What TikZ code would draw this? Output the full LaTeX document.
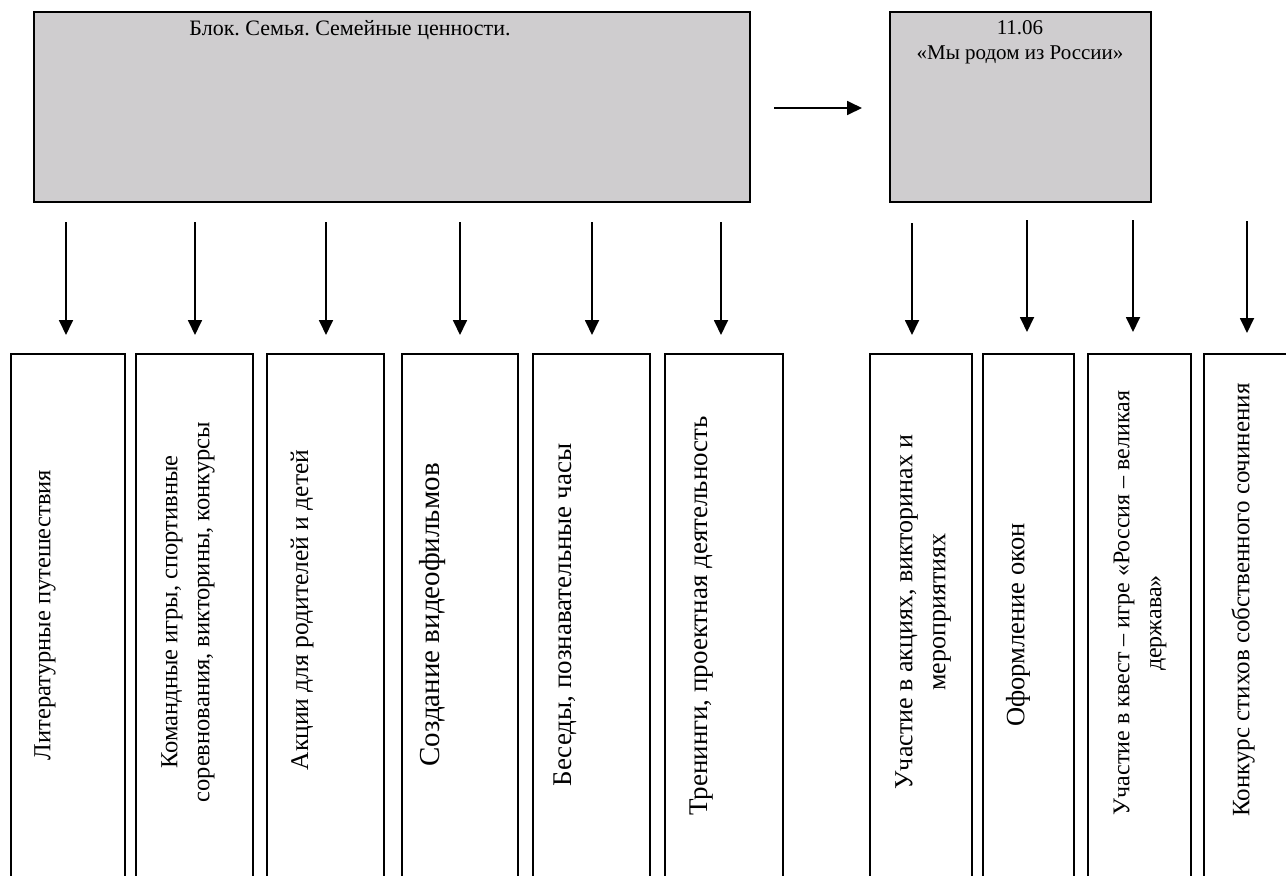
\documentclass[tikz,border=0pt]{standalone}
\usepackage{fontspec}
\setmainfont{Liberation Serif}
\usetikzlibrary{arrows.meta}
\definecolor{boxgray}{RGB}{207,205,207}
\frenchspacing
\begin{document}
\begin{tikzpicture}[x=1pt,y=-1pt,
  topbox/.style={draw=black, line width=1.8pt, fill=boxgray, anchor=north west, inner sep=0pt},
  subbox/.style={draw=black, line width=1.8pt, fill=white, anchor=north west, inner sep=0pt, minimum height=560pt},
  lbl/.style={font=\fontsize{21}{25}\selectfont, align=center, inner sep=0pt},
  vlbl/.style={align=center, inner sep=0pt, rotate=90},
  fs/.style 2 args={font=\fontsize{#1}{#2}\selectfont},
  arr/.style={line width=1.8pt, -{Triangle[length=15pt,width=14pt]}}]
\useasboundingbox (0,0) rectangle (1286,876);
\clip (0,0) rectangle (1286,876);
% top boxes
\node[topbox, minimum width=716pt, minimum height=190pt] (blk) at (33,11) {};
\node[topbox, minimum width=261pt, minimum height=190pt] (rt) at (889,11) {};
\node[lbl, font=\fontsize{22}{26}\selectfont] (blkt) at (350,30) {Блок. Семья. Семейные ценности.};
\node[lbl] (rtt) at (1020,42) {11.06\\«Мы родом из России»};
% arrow between
\coordinate (h1) at (774,108);
\coordinate (h2) at (862,108);
\draw[arr] (h1) -- (h2);
% bottom boxes
\node[subbox, minimum width=114pt] (b1) at (10,353) {};
\node[subbox, minimum width=117pt] (b2) at (135,353) {};
\node[subbox, minimum width=117pt] (b3) at (266,353) {};
\node[subbox, minimum width=116pt] (b4) at (401,353) {};
\node[subbox, minimum width=117pt] (b5) at (532,353) {};
\node[subbox, minimum width=118pt] (b6) at (664,353) {};
\node[subbox, minimum width=102pt] (b7) at (869,353) {};
\node[subbox, minimum width=91pt] (b8) at (982,353) {};
\node[subbox, minimum width=103pt] (b9) at (1087,353) {};
\node[subbox, minimum width=92pt] (b10) at (1203,353) {};
% labels
\node[vlbl, fs={24.5}{29}] (t1) at (45,615) {Литературные путешествия};
\node[vlbl, fs={24.5}{32}] (t2) at (188,612) {Командные игры, спортивные\\соревнования, викторины, конкурсы};
\node[vlbl, fs={25.5}{30}] (t3) at (302,610) {Акции для родителей и детей};
\node[vlbl, fs={29}{34}] (t4) at (433,615) {Создание видеофильмов};
\node[vlbl, fs={27}{32}] (t5) at (565,615) {Беседы, познавательные часы};
\node[vlbl, fs={27}{32}] (t6) at (702,616) {Тренинги, проектная деятельность};
\node[vlbl, fs={26}{33}] (t7) at (923,612) {Участие в акциях, викторинах и\\мероприятиях};
\node[vlbl, fs={26.5}{31}] (t8) at (1018,625) {Оформление окон};
\node[vlbl, fs={24}{32}] (t9) at (1140,603) {Участие в квест – игре «Россия – великая\\держава»\hspace*{40pt}};
\node[vlbl, fs={25}{30}] (t10) at (1243,600) {Конкурс стихов собственного сочинения};
% down arrows
\foreach \i/\x/\ys/\ye in {1/66/222/335,2/195/222/335,3/326/222/335,4/460/222/335,5/592/222/335,6/721/222/335,7/912/223/335,8/1027/220/332,9/1133/220/332,10/1247/221/333}{
  \coordinate (s\i) at (\x,\ys);
  \coordinate (e\i) at (\x,\ye);
  \draw[arr] (s\i) -- (e\i);
}
\end{tikzpicture}
\end{document}
